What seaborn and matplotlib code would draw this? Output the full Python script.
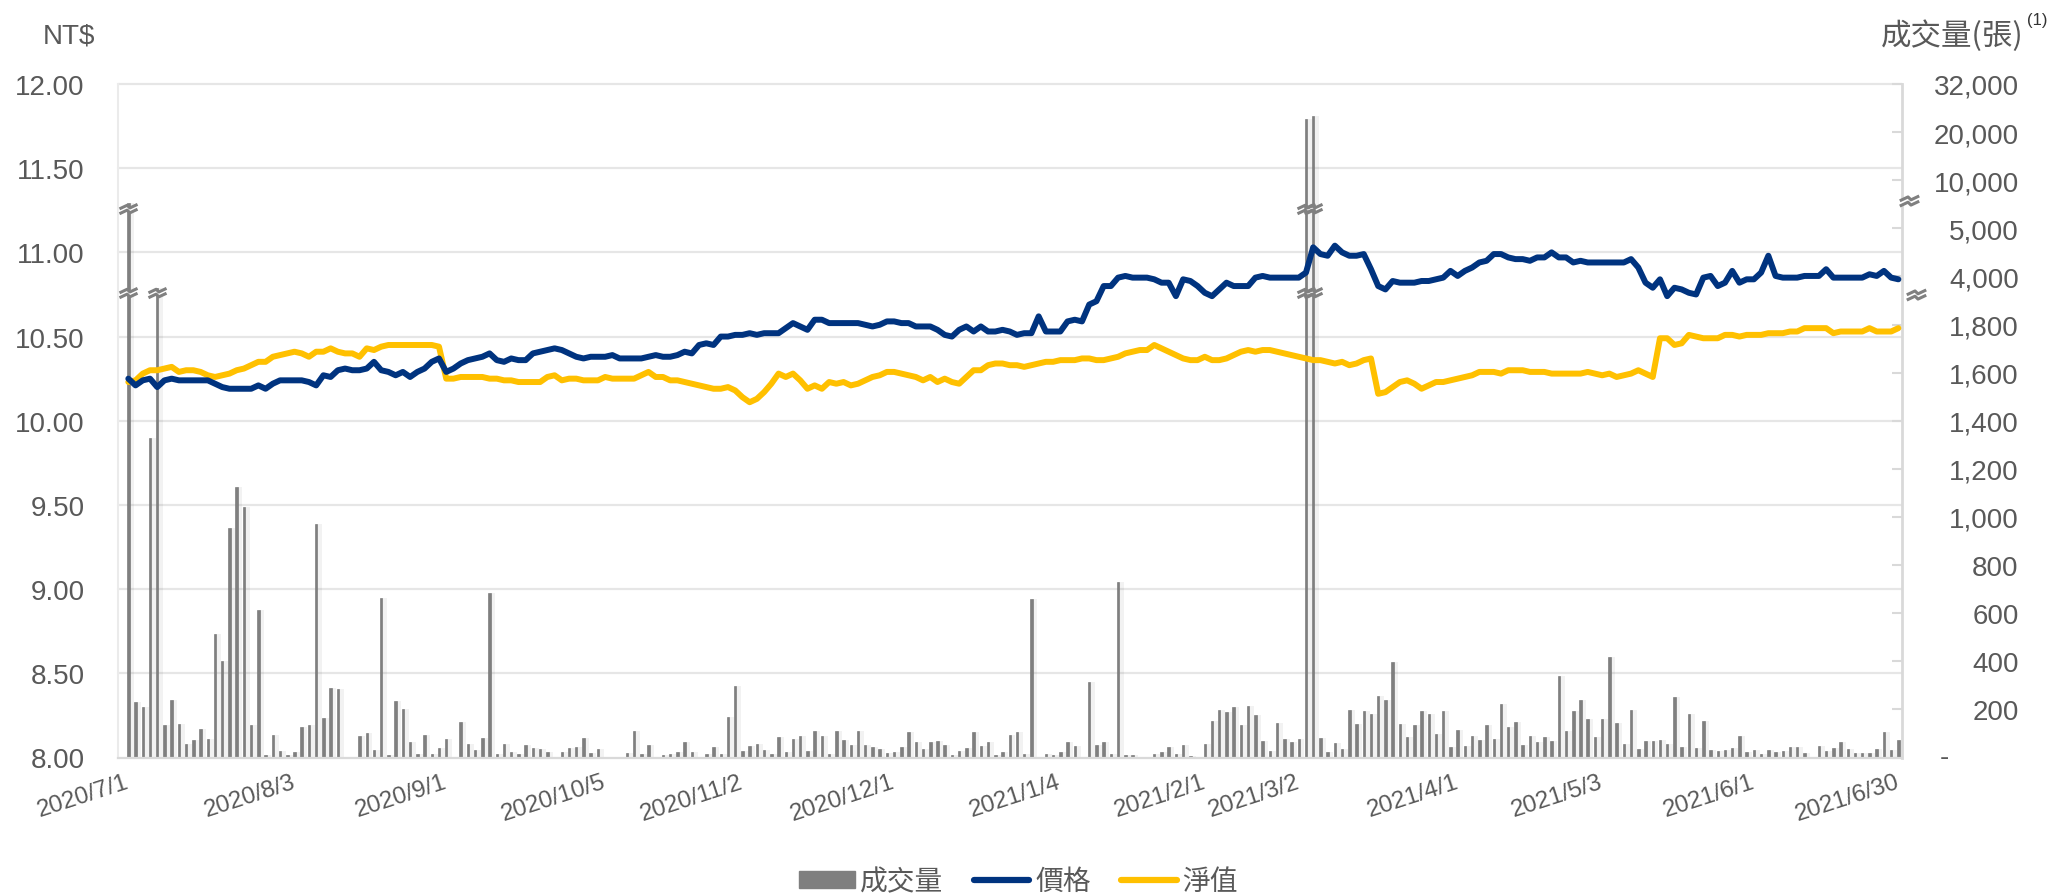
import numpy as np
import pandas as pd
import matplotlib
matplotlib.use("Agg")
import matplotlib.pyplot as plt
import seaborn as sns
from matplotlib.path import Path
from matplotlib.lines import Line2D
from matplotlib.patches import Patch

# ---------------- data ----------------
# Taiwan trading days 2020/7/1 - 2021/6/30 (market holidays removed)
holidays = ["2020-10-01", "2020-10-02", "2020-10-09", "2021-01-01",
            "2021-02-08", "2021-02-09", "2021-02-10", "2021-02-11", "2021-02-12",
            "2021-02-15", "2021-02-16", "2021-03-01", "2021-04-02", "2021-04-05",
            "2021-06-14"]
trade_days = [d for d in pd.bdate_range("2020-07-01", "2021-06-30")
              if d.strftime("%Y-%m-%d") not in holidays]
dates = [f"{d.year}/{d.month}/{d.day}" for d in trade_days]

tick_labels = ["2020/7/1", "2020/8/3", "2020/9/1", "2020/10/5", "2020/11/2",
               "2020/12/1", "2021/1/4", "2021/2/1", "2021/3/2", "2021/4/1",
               "2021/5/3", "2021/6/1", "2021/6/30"]

price = [
    10.25, 10.21, 10.24, 10.25, 10.20, 10.24, 10.25, 10.24, 10.24, 10.24,
    10.24, 10.24, 10.22, 10.20, 10.19, 10.19, 10.19, 10.19, 10.21, 10.19,
    10.22, 10.24, 10.24, 10.24, 10.24, 10.23, 10.21, 10.27, 10.26, 10.30,
    10.31, 10.30, 10.30, 10.31, 10.35, 10.30, 10.29, 10.27, 10.29, 10.26,
    10.29, 10.31, 10.35, 10.37, 10.29, 10.31, 10.34, 10.36, 10.37, 10.38,
    10.40, 10.36, 10.35, 10.37, 10.36, 10.36, 10.40, 10.41, 10.42, 10.43,
    10.42, 10.40, 10.38, 10.37, 10.38, 10.38, 10.38, 10.39, 10.37, 10.37,
    10.37, 10.37, 10.38, 10.39, 10.38, 10.38, 10.39, 10.41, 10.40, 10.45,
    10.46, 10.45, 10.50, 10.50, 10.51, 10.51, 10.52, 10.51, 10.52, 10.52,
    10.52, 10.55, 10.58, 10.56, 10.54, 10.60, 10.60, 10.58, 10.58, 10.58,
    10.58, 10.58, 10.57, 10.56, 10.57, 10.59, 10.59, 10.58, 10.58, 10.56,
    10.56, 10.56, 10.54, 10.51, 10.50, 10.54, 10.56, 10.53, 10.56, 10.53,
    10.53, 10.54, 10.53, 10.51, 10.52, 10.52, 10.62, 10.53, 10.53, 10.53,
    10.59, 10.60, 10.59, 10.69, 10.71, 10.80, 10.80, 10.85, 10.86, 10.85,
    10.85, 10.85, 10.84, 10.82, 10.82, 10.74, 10.84, 10.83, 10.80, 10.76,
    10.74, 10.78, 10.82, 10.80, 10.80, 10.80, 10.85, 10.86, 10.85, 10.85,
    10.85, 10.85, 10.85, 10.88, 11.03, 10.99, 10.98, 11.04, 11.00, 10.98,
    10.98, 10.99, 10.90, 10.80, 10.78, 10.83, 10.82, 10.82, 10.82, 10.83,
    10.83, 10.84, 10.85, 10.89, 10.86, 10.89, 10.91, 10.94, 10.95, 10.99,
    10.99, 10.97, 10.96, 10.96, 10.95, 10.97, 10.97, 11.00, 10.97, 10.97,
    10.94, 10.95, 10.94, 10.94, 10.94, 10.94, 10.94, 10.94, 10.96, 10.91,
    10.82, 10.79, 10.84, 10.74, 10.79, 10.78, 10.76, 10.75, 10.85, 10.86,
    10.80, 10.82, 10.89, 10.82, 10.84, 10.84, 10.88, 10.98, 10.86, 10.85,
    10.85, 10.85, 10.86, 10.86, 10.86, 10.90, 10.85, 10.85, 10.85, 10.85,
    10.85, 10.87, 10.86, 10.89, 10.85, 10.84]

nav = [
    10.23, 10.24, 10.28, 10.30, 10.30, 10.31, 10.32, 10.29, 10.30, 10.30,
    10.29, 10.27, 10.26, 10.27, 10.28, 10.30, 10.31, 10.33, 10.35, 10.35,
    10.38, 10.39, 10.40, 10.41, 10.40, 10.38, 10.41, 10.41, 10.43, 10.41,
    10.40, 10.40, 10.38, 10.43, 10.42, 10.44, 10.45, 10.45, 10.45, 10.45,
    10.45, 10.45, 10.45, 10.44, 10.25, 10.25, 10.26, 10.26, 10.26, 10.26,
    10.25, 10.25, 10.24, 10.24, 10.23, 10.23, 10.23, 10.23, 10.26, 10.27,
    10.24, 10.25, 10.25, 10.24, 10.24, 10.24, 10.26, 10.25, 10.25, 10.25,
    10.25, 10.27, 10.29, 10.26, 10.26, 10.24, 10.24, 10.23, 10.22, 10.21,
    10.20, 10.19, 10.19, 10.20, 10.18, 10.14, 10.11, 10.13, 10.17, 10.22,
    10.28, 10.26, 10.28, 10.24, 10.19, 10.21, 10.19, 10.23, 10.22, 10.23,
    10.21, 10.22, 10.24, 10.26, 10.27, 10.29, 10.29, 10.28, 10.27, 10.26,
    10.24, 10.26, 10.23, 10.25, 10.23, 10.22, 10.26, 10.30, 10.30, 10.33,
    10.34, 10.34, 10.33, 10.33, 10.32, 10.33, 10.34, 10.35, 10.35, 10.36,
    10.36, 10.36, 10.37, 10.37, 10.36, 10.36, 10.37, 10.38, 10.40, 10.41,
    10.42, 10.42, 10.45, 10.43, 10.41, 10.39, 10.37, 10.36, 10.36, 10.38,
    10.36, 10.36, 10.37, 10.39, 10.41, 10.42, 10.41, 10.42, 10.42, 10.41,
    10.40, 10.39, 10.38, 10.37, 10.36, 10.36, 10.35, 10.34, 10.35, 10.33,
    10.34, 10.36, 10.37, 10.16, 10.17, 10.20, 10.23, 10.24, 10.22, 10.19,
    10.21, 10.23, 10.23, 10.24, 10.25, 10.26, 10.27, 10.29, 10.29, 10.29,
    10.28, 10.30, 10.30, 10.30, 10.29, 10.29, 10.29, 10.28, 10.28, 10.28,
    10.28, 10.28, 10.29, 10.28, 10.27, 10.28, 10.26, 10.27, 10.28, 10.30,
    10.28, 10.26, 10.49, 10.49, 10.45, 10.46, 10.51, 10.50, 10.49, 10.49,
    10.49, 10.51, 10.51, 10.50, 10.51, 10.51, 10.51, 10.52, 10.52, 10.52,
    10.53, 10.53, 10.55, 10.55, 10.55, 10.55, 10.52, 10.53, 10.53, 10.53,
    10.53, 10.55, 10.53, 10.53, 10.53, 10.55]

volume = [
    7650, 229, 209, 1327, 3470, 135, 241, 140, 56, 74,
    119, 77, 515, 403, 955, 1123, 1040, 135, 614, 10,
    94, 28, 10, 22, 127, 134, 972, 165, 288, 285,
    3, 3, 88, 101, 33, 663, 10, 233, 202, 63,
    15, 94, 15, 38, 78, 3, 147, 56, 33, 81,
    684, 15, 56, 22, 15, 52, 40, 35, 24, 0,
    24, 40, 42, 81, 17, 35, 3, 3, 3, 17,
    110, 15, 53, 3, 10, 15, 22, 66, 24, 3,
    15, 45, 15, 167, 299, 28, 49, 56, 31, 15,
    87, 22, 78, 88, 26, 112, 91, 15, 112, 74,
    52, 112, 52, 42, 35, 17, 24, 42, 107, 66,
    35, 63, 67, 52, 10, 26, 38, 105, 49, 66,
    10, 24, 95, 105, 15, 660, 3, 15, 10, 22,
    66, 46, 3, 313, 52, 66, 15, 730, 10, 10,
    0, 0, 15, 24, 42, 15, 53, 7, 3, 56,
    153, 198, 191, 209, 134, 213, 178, 67, 28, 143,
    77, 63, 77, 23200, 24000, 80, 24, 59, 35, 198,
    140, 192, 181, 255, 237, 399, 140, 85, 135, 192,
    181, 99, 195, 45, 115, 49, 91, 74, 135, 77,
    224, 127, 147, 52, 91, 63, 85, 67, 337, 112,
    192, 240, 160, 87, 160, 417, 143, 56, 199, 35,
    67, 70, 74, 56, 250, 42, 181, 38, 153, 33,
    28, 31, 38, 91, 24, 31, 15, 33, 24, 26,
    42, 42, 17, 3, 49, 26, 38, 66, 35, 19,
    19, 19, 35, 107, 31, 74]

# broken right-axis scale: value breakpoints -> evenly spaced positions
vol_breaks = [0, 1800, 4000, 5000, 10000, 20000, 32000]
vol_pos = [0, 9, 10, 11, 12, 13, 14]

# ---------------- styling ----------------
sns.set_style("white")
plt.rcParams["font.family"] = ["Liberation Sans", "Noto Sans CJK TC", "DejaVu Sans"]
TXT = "#595959"
NAVY = "#00337F"
GOLD = "#FFC000"
BARC = "#7F7F7F"
GRID = "#E6E6E6"

W, H = 2049, 895
fig = plt.figure(figsize=(W / 100, H / 100), dpi=100)
L, R, T, B = 118, 1902, 85, 758.5
ax_bar = fig.add_axes([L / W, 1 - B / H, (R - L) / W, (B - T) / H])
ax_line = ax_bar.twinx()

n = len(dates)
x = np.arange(n)

def fwd(v):
    return np.interp(v, vol_breaks, vol_pos)

def inv(k):
    return np.interp(k, vol_pos, vol_breaks)

ax_bar.set_yscale("function", functions=(fwd, inv))

# gridlines (price levels) drawn beneath bars
for p in np.arange(8.5, 12.01, 0.5):
    f = (p - 8) / 4
    ax_bar.plot([0, 1], [f, f], transform=ax_bar.transAxes, color=GRID,
                lw=1.6, zorder=0.5, clip_on=False)

# soft shadow to the right of bars
ax_bar.bar(x + 0.42, volume, width=0.75, color="black", alpha=0.05,
           zorder=0.9, linewidth=0)
df_vol = pd.DataFrame({"date": dates, "vol": volume})
sns.barplot(data=df_vol, x="date", y="vol", order=dates, ax=ax_bar,
            color=BARC, saturation=1, width=0.34, edgecolor="#6E6E6E",
            linewidth=0.4, zorder=2)

df_line = pd.DataFrame({"x": x, "price": price, "nav": nav})
sns.lineplot(data=df_line, x="x", y="nav", ax=ax_line, color=GOLD,
             linewidth=4.3, legend=False, sort=False)
sns.lineplot(data=df_line, x="x", y="price", ax=ax_line, color=NAVY,
             linewidth=4.3, legend=False, sort=False)

ax_bar.set_xlim(-1.43, n - 0.5)
ax_bar.set_ylim(0, inv(14.03))
ax_line.set_ylim(8, 12)

# break marks
zig = [(-1, -0.2), (-0.15, 0.2), (0.15, -0.1), (1, 0.3)]
s1 = [(a, b + 0.27) for a, b in zig]
s2 = [(a, b - 0.27) for a, b in zig]
brk_path = Path(s1 + s2, [Path.MOVETO] + [Path.LINETO] * 3 + [Path.MOVETO] + [Path.LINETO] * 3)
fill_path = Path(s2 + s1[::-1] + [s2[0]], closed=True)

def draw_break(ax, xs, ys, transform=None, ms=13):
    kw = {} if transform is None else {"transform": transform}
    ax.plot(xs, ys, ls="none", marker=fill_path, ms=ms, mfc="white",
            mec="white", mew=1, zorder=5, clip_on=False, **kw)
    ax.plot(xs, ys, ls="none", marker=brk_path, ms=ms, mfc="none",
            mec="#808080", mew=2.2, zorder=6, clip_on=False, **kw)

hi_brk, lo_brk = inv(11.4), inv(9.65)
bx_hi = [i for i, v in enumerate(volume) if v > hi_brk]
bx_lo = [i for i, v in enumerate(volume) if v > lo_brk]
draw_break(ax_bar, bx_hi, [hi_brk] * len(bx_hi))
draw_break(ax_bar, bx_lo, [lo_brk] * len(bx_lo))
ytr = ax_bar.get_yaxis_transform()
draw_break(ax_bar, [1.004, 1.008], [inv(11.57), inv(9.61)], transform=ytr, ms=14)

# right axis (volume)
rticks = [0, 200, 400, 600, 800, 1000, 1200, 1400, 1600, 1800, 4000, 5000,
          10000, 20000, 32000]
ax_bar.yaxis.tick_right()
ax_bar.set_yticks(rticks)
ax_bar.set_yticklabels(["" if v == 0 else f"{v:,}" for v in rticks])
ax_bar.tick_params(axis="y", which="both", direction="in", length=7, width=1.5,
                   color="#D9D9D9", labelsize=20, labelcolor=TXT, pad=84,
                   right=True, left=False)
for lab in ax_bar.get_yticklabels():
    lab.set_horizontalalignment("right")
ax_bar.yaxis.set_minor_locator(matplotlib.ticker.NullLocator())
ax_bar.text(1.0235, 0, "-", transform=ytr, ha="center", va="center",
            fontsize=20, color=TXT)
ax_bar.set_ylabel("")
ax_bar.set_xlabel("")

# x axis
tpos = [dates.index(t) for t in tick_labels]
ax_bar.set_xticks(tpos)
ax_bar.set_xticklabels(tick_labels, rotation=18, ha="right", va="center",
                       rotation_mode="anchor", fontsize=17.5, color=TXT)
ax_bar.tick_params(axis="x", length=0, pad=17)

# left axis (price)
ax_line.yaxis.tick_left()
ax_line.set_yticks(np.arange(8, 12.01, 0.5))
ax_line.set_yticklabels([f"{v:.2f}" for v in np.arange(8, 12.01, 0.5)])
ax_line.tick_params(axis="y", length=0, labelsize=20, labelcolor=TXT, pad=24)
ax_line.set_ylabel("")
ax_line.set_xlabel("")

# spines
for s in ax_line.spines.values():
    s.set_visible(False)
ax_bar.spines["top"].set_visible(False)
ax_bar.spines["left"].set_color("#EBEBEB")
ax_bar.spines["left"].set_linewidth(1.5)
ax_bar.spines["bottom"].set_color("#D9D9D9")
ax_bar.spines["bottom"].set_linewidth(1.6)
ax_bar.spines["right"].set_color("#D9D9D9")
ax_bar.spines["right"].set_linewidth(2.0)

# axis titles
fig.text(95 / W, 1 - 36 / H, "NT$", ha="right", va="center", fontsize=20, color=TXT)
fig.text(2024 / W, 1 - 36 / H, "成交量(張)", ha="right", va="center", fontsize=22,
         color=TXT, family=["Noto Sans CJK TC", "DejaVu Sans"])
fig.text(2027 / W, 1 - 20 / H, "(1)", ha="left", va="center", fontsize=12,
         color="#333333")

# legend
handles = [Patch(facecolor=BARC, edgecolor=BARC),
           Line2D([], [], color=NAVY, lw=4.5),
           Line2D([], [], color=GOLD, lw=4.5)]
fig.legend(handles, ["成交量", "價格", "淨值"], loc="center",
           bbox_to_anchor=(0.497, 0.0145), ncol=3, frameon=False,
           prop={"family": ["Noto Sans CJK TC", "DejaVu Sans"], "size": 20},
           labelcolor=TXT, handlelength=2.0, handleheight=0.55,
           handletextpad=0.2, columnspacing=1.1)

fig.savefig("out.png", dpi=100)
